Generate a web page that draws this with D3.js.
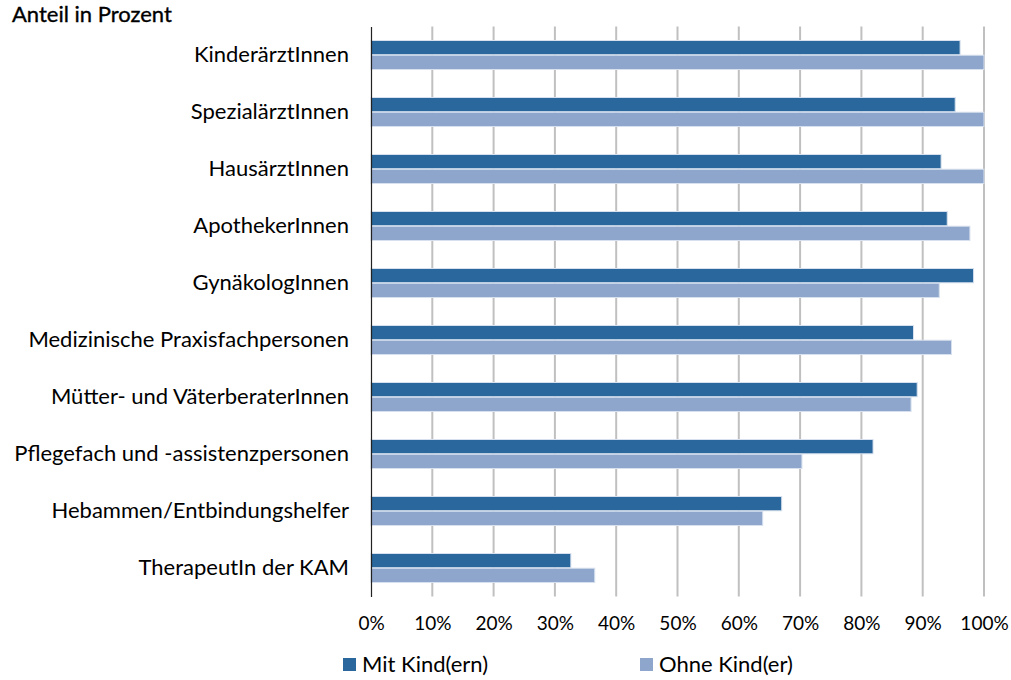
<!DOCTYPE html>
<html>
<head>
<meta charset="utf-8">
<script src="https://cdn.jsdelivr.net/npm/d3@7"></script>
<style>
  body { margin: 0; background: #fff; }
  text { font-family: Lato, "Noto Sans", sans-serif; fill: #000; }
</style>
</head>
<body>
<script>
var categories = ["KinderärztInnen", "SpezialärztInnen", "HausärztInnen", "ApothekerInnen",
	"GynäkologInnen", "Medizinische Praxisfachpersonen", "Mütter- und VäterberaterInnen",
	"Pflegefach und -assistenzpersonen", "Hebammen/Entbindungshelfer", "TherapeutIn der KAM"];
var mitKind = [96.1, 95.3, 93.0, 94.0, 98.3, 88.5, 89.1, 81.9, 67.0, 32.6];
var ohneKind = [100, 100, 100, 97.7, 92.7, 94.7, 88.1, 70.3, 63.9, 36.5];
var seriesNames = ["Mit Kind(ern)", "Ohne Kind(er)"];
var ticks = [0, 10, 20, 30, 40, 50, 60, 70, 80, 90, 100];

var colors = ["#29679c", "#8fa6cc"],
	width = 1011, height = 680,
	plotLeft = 371, plotRight = 984, plotTop = 26.5, plotBottom = 596.5;

var svg = d3.select("body").append("svg")
	.attr("width", width)
	.attr("height", height);

var x = d3.scaleLinear().domain([0, 100]).range([plotLeft, plotRight]);
var y = d3.scaleBand().domain(categories).range([plotTop, plotBottom]);
var inner = d3.scaleBand().domain([0, 1]).range([y.bandwidth() / 2 - 14.5, y.bandwidth() / 2 + 14.5]).paddingInner(0.03);

// gridlines
svg.selectAll(".grid")
	.data(ticks.slice(1))
	.enter().append("line")
	.attr("x1", d => x(d)).attr("x2", d => x(d))
	.attr("y1", plotTop).attr("y2", plotBottom)
	.attr("stroke", "#c0c0c0")
	.attr("stroke-width", 2);

var rows = categories.map((c, i) => ({ cat: c, vals: [mitKind[i], ohneKind[i]] }));

var groups = svg.selectAll(".row")
	.data(rows)
	.enter().append("g")
	.attr("transform", d => "translate(0," + y(d.cat) + ")");

groups.selectAll("rect")
	.data(d => d.vals)
	.enter().append("rect")
	.attr("x", x(0))
	.attr("y", (d, i) => inner(i))
	.attr("width", d => x(d) - x(0))
	.attr("height", inner.bandwidth())
	.attr("fill", (d, i) => colors[i])
	.attr("stroke", "#d6e0ee")
	.attr("stroke-width", 1);

// category axis
var yAxis = svg.append("g")
	.attr("transform", "translate(" + plotLeft + ",0)")
	.call(d3.axisLeft(y).tickSize(0).tickPadding(22));
yAxis.select(".domain").attr("stroke", "#222").attr("stroke-width", 1.2);
yAxis.selectAll("text").style("font-size", "22px").attr("font-family", null);

// value axis labels
var xAxis = svg.append("g")
	.attr("transform", "translate(0," + plotBottom + ")")
	.call(d3.axisBottom(x).tickValues(ticks).tickSize(0).tickPadding(20).tickFormat(d => d + "%"));
xAxis.select(".domain").remove();
xAxis.selectAll("text").style("font-size", "19px").attr("font-family", null);

svg.append("text")
	.attr("x", 12).attr("y", 22)
	.style("font-size", "22px")
	.style("font-weight", 400)
	.style("stroke", "#000")
	.style("stroke-width", 0.35)
	.text("Anteil in Prozent");

// legend
var legendX = [343, 640];
var legend = svg.selectAll(".legend")
	.data(seriesNames)
	.enter().append("g")
	.attr("transform", (d, i) => "translate(" + legendX[i] + ",658)");
legend.append("rect")
	.attr("width", 13).attr("height", 13)
	.attr("fill", (d, i) => colors[i]);
legend.append("text")
	.attr("x", 19).attr("y", 14)
	.style("font-size", "22px")
	.text(d => d);
</script>
</body>
</html>
